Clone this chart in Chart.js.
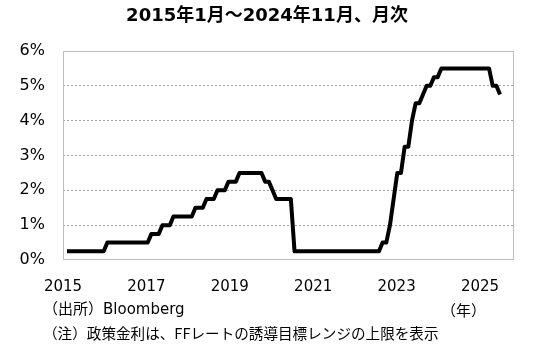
<!DOCTYPE html>
<html>
<head>
<meta charset="utf-8">
<script src="https://cdn.jsdelivr.net/npm/chart.js@4"></script>
<style>
  html, body { margin: 0; padding: 0; background: #fff; }
  #wrap { width: 550px; height: 354px; }
</style>
</head>
<body>
<div id="wrap"><canvas id="rateChart" width="550" height="354"></canvas></div>
<script>
// FF rate target range, upper bound (%), month end, Jan 2015 - Nov 2024
var rate2015 = [0.25, 0.25, 0.25, 0.25, 0.25, 0.25, 0.25, 0.25, 0.25, 0.25, 0.25, 0.5];
var rate2016 = [0.5, 0.5, 0.5, 0.5, 0.5, 0.5, 0.5, 0.5, 0.5, 0.5, 0.5, 0.75];
var rate2017 = [0.75, 0.75, 1.0, 1.0, 1.0, 1.25, 1.25, 1.25, 1.25, 1.25, 1.25, 1.5];
var rate2018 = [1.5, 1.5, 1.75, 1.75, 1.75, 2.0, 2.0, 2.0, 2.25, 2.25, 2.25, 2.5];
var rate2019 = [2.5, 2.5, 2.5, 2.5, 2.5, 2.5, 2.25, 2.25, 2.0, 1.75, 1.75, 1.75];
var rate2020 = [1.75, 1.75, 0.25, 0.25, 0.25, 0.25, 0.25, 0.25, 0.25, 0.25, 0.25, 0.25];
var rate2021 = [0.25, 0.25, 0.25, 0.25, 0.25, 0.25, 0.25, 0.25, 0.25, 0.25, 0.25, 0.25];
var rate2022 = [0.25, 0.25, 0.5, 0.5, 1.0, 1.75, 2.5, 2.5, 3.25, 3.25, 4.0, 4.5];
var rate2023 = [4.5, 4.75, 5.0, 5.0, 5.25, 5.25, 5.5, 5.5, 5.5, 5.5, 5.5, 5.5];
var rate2024 = [5.5, 5.5, 5.5, 5.5, 5.5, 5.5, 5.5, 5.5, 5.0, 5.0, 4.75];

var yearTicks = [2015, 2017, 2019, 2021, 2023, 2025];
var yTicks = [0, 1, 2, 3, 4, 5, 6];

var titleText = '2015年1月～2024年11月、月次';
var sourceText = '（出所）Bloomberg';
var noteText = '（注）政策金利は、FFレートの誘導目標レンジの上限を表示';
var unitText = '（年）';

var rates = [].concat(rate2015, rate2016, rate2017, rate2018, rate2019,
                      rate2020, rate2021, rate2022, rate2023, rate2024);
var points = rates.map(function (v, i) { return { x: i, y: v }; });

var numFont = 'DejaVu Sans, Verdana, sans-serif';

var deco = {
    id: 'deco',
    beforeDatasetsDraw: function (chart) {
        var ctx = chart.ctx, a = chart.chartArea;
        ctx.save();
        ctx.strokeStyle = '#bdbdbd';
        ctx.lineWidth = 1;
        ctx.strokeRect(Math.round(a.left) + 0.5, Math.round(a.top) + 0.5,
                       Math.round(a.width) - 1, Math.round(a.height) - 1);
        ctx.restore();
    },
    afterDraw: function (chart) {
        var ctx = chart.ctx;
        ctx.save();
        ctx.fillStyle = '#000';
        ctx.textBaseline = 'middle';
        ctx.textAlign = 'center';
        ctx.font = 'bold 18px "DejaVu Sans", "Noto Sans CJK JP", sans-serif';
        ctx.fillText(titleText, 267, 16);
        ctx.textAlign = 'left';
        ctx.font = '15px "DejaVu Sans", "Noto Sans CJK JP", sans-serif';
        ctx.fillText(sourceText, 43, 310);
        ctx.font = '15px "Noto Sans CJK JP", sans-serif';
        ctx.fillText(unitText, 441, 310);
        ctx.font = '14.6px "Noto Sans CJK JP", sans-serif';
        ctx.fillText(noteText, 43, 333);
        ctx.restore();
    }
};

var chartR = new Chart(document.getElementById('rateChart'), {
    type: 'line',
    data: {
        datasets: [{
            label: 'FF',
            data: points,
            borderColor: '#000',
            borderWidth: 4,
            borderJoinStyle: 'round',
            borderCapStyle: 'butt',
            pointRadius: 0,
            tension: 0,
            fill: false
        }]
    },
    options: {
        responsive: false,
        animation: false,
        events: [],
        layout: { padding: { top: 51, right: 36, left: 0, bottom: 0 } },
        plugins: {
            legend: { display: false },
            tooltip: { enabled: false },
            title: { display: false }
        },
        scales: {
            x: {
                type: 'linear',
                display: false,
                min: -1.09,
                max: 121.8
            },
            x2: {
                type: 'linear',
                position: 'bottom',
                min: 2015,
                max: 2025.815,
                afterBuildTicks: function (s) {
                    s.ticks = yearTicks.map(function (v) { return { value: v }; });
                },
                afterFit: function (s) { s.height = 94; },
                grid: { display: false, drawTicks: false },
                border: { display: false },
                ticks: {
                    autoSkip: false,
                    maxRotation: 0,
                    padding: 18,
                    color: '#000',
                    font: { family: numFont, size: 15 },
                    callback: function (v) { return String(v); }
                }
            },
            y: {
                min: 0,
                max: 6,
                afterBuildTicks: function (s) {
                    s.ticks = yTicks.map(function (v) { return { value: v }; });
                },
                afterFit: function (s) { s.width = 63; },
                grid: {
                    drawTicks: false,
                    lineWidth: 1,
                    color: function (c) {
                        return (c.tick && c.tick.value > 0 && c.tick.value < 6) ? '#a0a0a0' : 'rgba(0,0,0,0)';
                    }
                },
                border: { display: false, dash: [2, 2] },
                ticks: {
                    padding: 18,
                    color: '#000',
                    font: { family: numFont, size: 16 },
                    callback: function (v) { return v + '%'; }
                }
            }
        }
    },
    plugins: [deco]
});
</script>
</body>
</html>
